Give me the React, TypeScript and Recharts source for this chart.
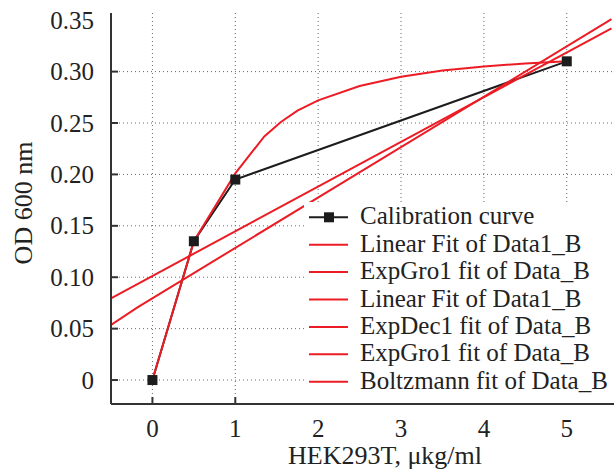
import React from 'react';
import { ComposedChart, Line, Scatter, XAxis, YAxis, CartesianGrid, Legend, Label } from 'recharts';

// measured points
const calibrationX = [0, 0.5, 1, 5];
const calibrationY = [0, 0.135, 0.195, 0.31];

// straight fit (upper one at the left edge)
const linearFitX = [-0.5, 5.54];
const linearFitY = [0.0795, 0.342];

// slightly bent fit (lower one at the left edge)
const expGroFitX = [-0.5, -0.18, 5.54];
const expGroFitY = [0.0535, 0.0707, 0.351];

// saturating fit
const expDecFitX = [0, 0.5, 1, 1.35, 1.55, 1.75, 2, 2.5, 3, 3.5, 4, 4.5, 5];
const expDecFitY = [0, 0.135, 0.201, 0.237, 0.251, 0.262, 0.272, 0.286, 0.295, 0.301, 0.305, 0.308, 0.31];

const xTicks = [0, 1, 2, 3, 4, 5];
const yTicks = [0, 0.05, 0.1, 0.15, 0.2, 0.25, 0.3, 0.35];
const yGrid = [0, 0.05, 0.1, 0.15, 0.2, 0.25, 0.3];

const legendLabels = [
  'Calibration curve',
  'Linear Fit of Data1_B',
  'ExpGro1 fit of Data_B',
  'Linear Fit of Data1_B',
  'ExpDec1 fit of Data_B',
  'ExpGro1 fit of Data_B',
  'Boltzmann fit of Data_B',
];

const RED = '#ec1c24';
const BLACK = '#1c1c1c';
const AXIS = '#333';
const FONT = "'Liberation Serif', serif";

const toPoints = (xs: number[], ys: number[]) => xs.map((x, i) => ({ x, y: ys[i] }));

const calibration = toPoints(calibrationX, calibrationY);
const linearFit = toPoints(linearFitX, linearFitY);
const expGroFit = toPoints(expGroFitX, expGroFitY);
const expDecFit = toPoints(expDecFitX, expDecFitY);

const YTick = (props: any) => {
  const { x, y, payload } = props;
  const v = payload.value;
  return (
    <g>
      {yGrid.includes(v) && <line x1={x} x2={x + 7} y1={y} y2={y} stroke={AXIS} strokeWidth={2} />}
      <text x={x - 17} y={y + 8.5} textAnchor="end" fontSize={25} fontFamily={FONT} fill="#222">
        {v === 0 ? '0' : v.toFixed(2)}
      </text>
    </g>
  );
};

const XTick = (props: any) => {
  const { x, y, payload } = props;
  return (
    <g>
      <line x1={x} x2={x} y1={y} y2={y - 7} stroke={AXIS} strokeWidth={2} />
      <text x={x} y={y + 33} textAnchor="middle" fontSize={25} fontFamily={FONT} fill="#222">
        {payload.value}
      </text>
    </g>
  );
};

const SquareDot = (props: any) => {
  const { cx, cy } = props;
  return <rect x={cx - 5} y={cy - 5} width={10} height={10} fill={BLACK} />;
};

const renderLegend = () => (
  <svg width={310} height={201}>
    {legendLabels.map((label, i) => {
      const cy = 15.3 + 27.4 * i;
      return (
        <g key={i}>
          <line x1={5} x2={44} y1={cy} y2={cy} stroke={i === 0 ? BLACK : RED} strokeWidth={2} />
          {i === 0 && <rect x={20} y={cy - 5} width={10} height={10} fill={BLACK} />}
          <text x={56} y={cy + 7} fontSize={25} fontFamily={FONT} fill="#222">
            {label}
          </text>
        </g>
      );
    })}
  </svg>
);

export default function App() {
  return (
    <div style={{ position: 'absolute', left: 0, top: 0, fontFamily: FONT, background: '#fff' }}>
      <ComposedChart width={614} height={469} margin={{ top: 13, right: 0, bottom: 0, left: 0 }}>
        <CartesianGrid
          stroke="#666"
          strokeDasharray="1 3"
          horizontalValues={yGrid}
          verticalValues={xTicks}
        />
        <XAxis
          xAxisId="top"
          orientation="top"
          type="number"
          domain={[-0.5, 5.57]}
          height={0}
          tick={false}
          tickLine={false}
          axisLine={{ stroke: AXIS, strokeWidth: 2 }}
        />
        <XAxis
          dataKey="x"
          type="number"
          domain={[-0.5, 5.57]}
          ticks={xTicks}
          interval={0}
          allowDataOverflow
          height={65}
          tickSize={0}
          tickMargin={0}
          tickLine={false}
          tick={<XTick />}
          axisLine={{ stroke: AXIS, strokeWidth: 2 }}
        >
          <Label
            content={() => (
              <text x={385} y={464} textAnchor="middle" fontSize={26} fontFamily={FONT} fill="#222">
                HEK293T, μkg/ml
              </text>
            )}
          />
        </XAxis>
        <YAxis
          dataKey="y"
          type="number"
          domain={[-0.0233, 0.357]}
          ticks={yTicks}
          interval={0}
          allowDataOverflow
          width={111}
          tickSize={0}
          tickMargin={0}
          tickLine={false}
          tick={<YTick />}
          axisLine={{ stroke: AXIS, strokeWidth: 2 }}
        >
          <Label
            content={() => (
              <text
                x={32}
                y={203}
                textAnchor="middle"
                fontSize={26}
                fontFamily={FONT}
                fill="#222"
                transform="rotate(-90, 32, 203)"
              >
                OD 600 nm
              </text>
            )}
          />
        </YAxis>
        <Line data={calibration} dataKey="y" type="linear" stroke={BLACK} strokeWidth={2} dot={false} isAnimationActive={false} name={legendLabels[0]} />
        <Line data={linearFit} dataKey="y" type="linear" stroke={RED} strokeWidth={2} dot={false} isAnimationActive={false} name={legendLabels[1]} />
        <Line data={expGroFit} dataKey="y" type="linear" stroke={RED} strokeWidth={2} dot={false} isAnimationActive={false} name={legendLabels[2]} />
        <Line data={expDecFit} dataKey="y" type="linear" stroke={RED} strokeWidth={2} dot={false} isAnimationActive={false} name={legendLabels[4]} />
        <Scatter data={calibration} dataKey="y" fill={BLACK} shape={<SquareDot />} isAnimationActive={false} legendType="none" />
        <Legend
          layout="horizontal"
          verticalAlign="middle"
          align="center"
          wrapperStyle={{ left: 304, top: 202, width: 310, height: 201, background: '#fff' }}
          content={renderLegend}
        />
      </ComposedChart>
    </div>
  );
}
